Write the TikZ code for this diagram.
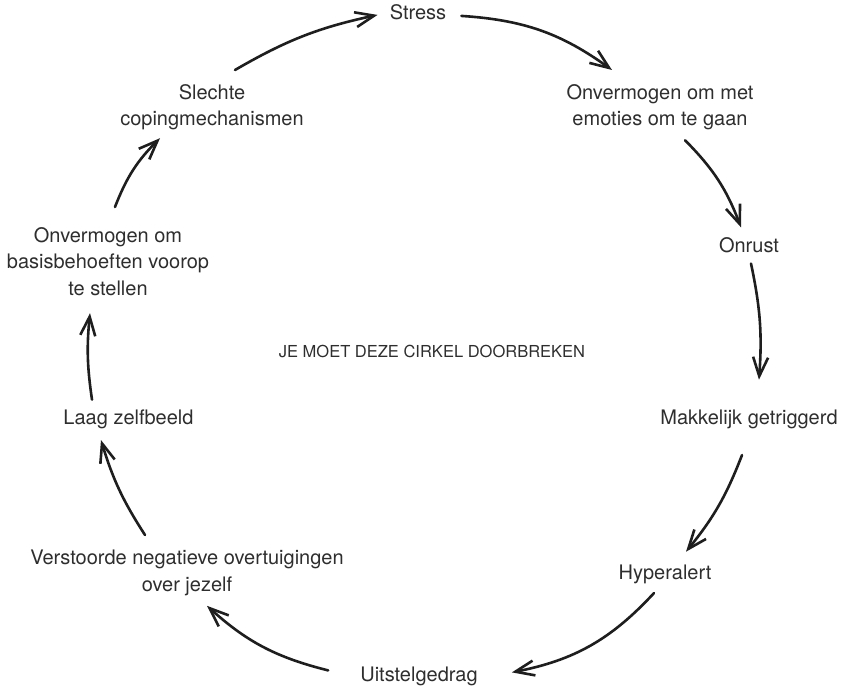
\documentclass[tikz,border=0pt]{standalone}
\usepackage{fontspec}
\setmainfont{TeX Gyre Heros}
\usetikzlibrary{arrows.meta,calc}
\definecolor{txt}{HTML}{2E2E2E}
\definecolor{ink}{HTML}{1E1E1E}
\begin{document}
\begin{tikzpicture}[x=1pt,y=-1pt,
  lbl/.style={inner sep=0pt, text=txt, font=\fontsize{20}{26.5}\selectfont, align=center},
  arr/.style={draw=ink, line width=2.6pt, line cap=round, line join=round,
    -{Straight Barb[length=19pt,width=15pt]}}]
\useasboundingbox (0,0) rectangle (845,692);
% nodes
\node[lbl,anchor=base]  (stress)    at (418,19.5)  {Stress};
\node[lbl,anchor=north] (emoties)   at (660,84)    {Onvermogen om met\\emoties om te gaan};
\node[lbl,anchor=base]  (onrust)    at (749,252.5) {Onrust};
\node[lbl,anchor=base]  (makkelijk) at (749,424.5) {Makkelijk getriggerd};
\node[lbl,anchor=base]  (hyper)     at (665,579.5) {Hyperalert};
\node[lbl,anchor=base]  (uitstel)   at (419,681.5) {Uitstelgedrag};
\node[lbl,anchor=north] (verst)     at (187,550)   {Verstoorde negatieve overtuigingen\\over jezelf};
\node[lbl,anchor=base]  (laag)      at (128.5,424.5) {Laag zelfbeeld};
\node[lbl,anchor=north] (onvb)      at (108,227)   {Onvermogen om\\basisbehoeften voorop\\te stellen};
\node[lbl,anchor=north] (slechte)   at (212,84)    {Slechte\\copingmechanismen};
\node[inner sep=0pt, text=txt, font=\fontsize{16.5}{20}\selectfont] (center) at (432,351) {JE MOET DEZE CIRKEL DOORBREKEN};
% connectors
\draw[arr] ($(slechte.north)+(23,-14)$) to[bend left=9]  ($(stress.west)+(-12,2.7)$);
\draw[arr] ($(stress.east)+(15,3.7)$)   to[bend left=16] ($(emoties.north)+(-48,-14)$);
\draw[arr] ($(emoties.south)+(25,10)$)  to[bend left=12] ($(onrust.north)+(-8,-10)$);
\draw[arr] ($(onrust.south)+(2,10.5)$)  to[bend left=8]  ($(makkelijk.north)+(10,-30)$);
\draw[arr] ($(makkelijk.south)+(-7,26)$) to[bend left=9] ($(hyper.north)+(21,-13)$);
\draw[arr] ($(hyper.south)+(-11,9)$)    to[bend left=18] ($(uitstel.east)+(34,-4)$);
\draw[arr] ($(uitstel.west)+(-32,-6)$)  to[bend left=14] ($(verst.south)+(20,10)$);
\draw[arr] ($(verst.north)+(-42,-15)$)  to[bend left=8]  ($(laag.south)+(-27.5,11)$);
\draw[arr] ($(laag.north)+(-36.5,-10)$) to[bend left=7]  ($(onvb.south)+(-18,17.5)$);
\draw[arr] ($(onvb.north)+(7,-20)$)     to[bend left=12] ($(slechte.south)+(-52,8)$);
\end{tikzpicture}
\end{document}
